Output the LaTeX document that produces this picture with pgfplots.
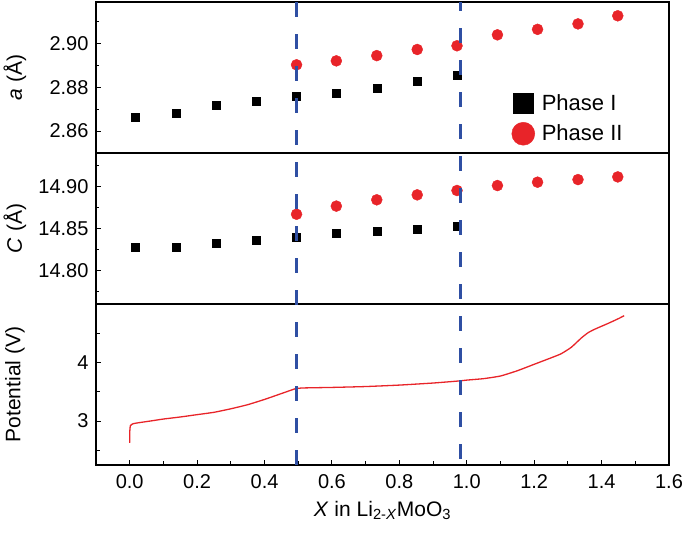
\documentclass[border=0pt]{standalone}
\usepackage{fontspec}
\setmainfont{Liberation Sans}
\usepackage{pgfplots}
\pgfplotsset{compat=1.18}
\definecolor{myred}{RGB}{232,36,41}
\definecolor{myblue}{RGB}{47,79,163}

\begin{document}
\begin{tikzpicture}[x=1pt,y=1pt]
\path[use as bounding box] (0,0) rectangle (685,538);
\pgfplotsset{
  every axis/.append style={
    scale only axis, width=573pt,
    xmin=-0.1, xmax=1.6,
    tick align=inside, xtick pos=bottom, ytick pos=left,
    axis line style={line width=1.4pt},
    major tick length=5pt, minor tick length=3.5pt,
    every tick/.style={black, line width=1pt},
    tick label style={font=\fontsize{20}{24}\selectfont},
    label style={font=\fontsize{21}{25}\selectfont},
    /pgf/number format/assume math mode=true,
    yticklabel style={xshift=-4pt},
    every axis y label/.style={at={(axis description cs:0,0.5)}, xshift=-81pt, rotate=90, anchor=center, font=\fontsize{21}{25}\selectfont},
  }
}
% Panel 1: a
\begin{axis}[at={(96pt,385pt)}, anchor=south west, height=151pt,
  ymin=2.85, ymax=2.919, ytick={2.86,2.88,2.90}, minor ytick={2.87,2.89,2.91},
  xtick=\empty,
  yticklabel style={/pgf/number format/fixed, /pgf/number format/fixed zerofill, /pgf/number format/precision=2},
  ylabel={\textit{a} (Å)},
  legend style={draw=none, fill=none, font=\fontsize{22}{26}\selectfont,
    at={(axis description cs:0.824,0.225)}, anchor=center, row sep=8pt, column sep=5pt},
  legend cell align=left]
\addplot[only marks, mark=square*, mark size=4pt, black,
  legend image post style={mark size=10pt}] coordinates {
(0.017,2.8665) (0.137,2.8680) (0.256,2.8717) (0.375,2.8736) (0.495,2.8760)
(0.613,2.8774) (0.733,2.8797) (0.853,2.8830) (0.971,2.8856)};
\addplot[only marks, mark=*, mark size=5.5pt, myred, mark options={draw=myred, fill=myred},
  legend image post style={mark size=11.5pt}] coordinates {
(0.495,2.8903) (0.613,2.8921) (0.733,2.8945) (0.853,2.8973) (0.971,2.8990)
(1.091,2.9040) (1.210,2.9065) (1.330,2.9090) (1.448,2.9127)};
\legend{Phase I, Phase II}
\end{axis}
% Panel 2: C
\begin{axis}[at={(96pt,234pt)}, anchor=south west, height=151pt,
  ymin=14.76, ymax=14.94, ytick={14.80,14.85,14.90}, minor ytick={14.775,14.825,14.875,14.925},
  xtick=\empty,
  yticklabel style={/pgf/number format/fixed, /pgf/number format/fixed zerofill, /pgf/number format/precision=2},
  ylabel={\textit{C} (Å)}]
\addplot[only marks, mark=square*, mark size=4pt, black] coordinates {
(0.017,14.8279) (0.137,14.8280) (0.256,14.8326) (0.375,14.8365) (0.495,14.8393)
(0.613,14.8445) (0.733,14.8473) (0.853,14.8496) (0.971,14.8532)};
\addplot[only marks, mark=*, mark size=5.5pt, myred, mark options={draw=myred, fill=myred}] coordinates {
(0.495,14.8670) (0.613,14.8767) (0.733,14.8842) (0.853,14.8901) (0.971,14.8953)
(1.091,14.9012) (1.210,14.9052) (1.330,14.9083) (1.448,14.9115)};
\end{axis}
% Panel 3: Potential
\begin{axis}[at={(96pt,73pt)}, anchor=south west, height=161pt,
  ymin=2.25, ymax=5.0, ytick={3,4}, minor ytick={2.5,3.5,4.5},
  xtick={0,0.2,...,1.6}, minor xtick={-0.1,0.1,0.3,0.5,0.7,0.9,1.1,1.3,1.5},
  xticklabel style={/pgf/number format/fixed, /pgf/number format/fixed zerofill, /pgf/number format/precision=1, yshift=-6pt},
  ylabel={Potential (V)},
  xlabel={\textit{X} in Li\textsubscript{2-\textit{X}}MoO\textsubscript{3}},
  xlabel style={yshift=-6pt},
  clip=false]
\addplot[myred, line width=1.3pt, smooth, tension=0.3] coordinates {
(0.0,2.63) (0.0,2.80) (0.002,2.92) (0.01,2.955) (0.03,2.975) (0.06,3.0) (0.1,3.035)
(0.15,3.07) (0.2,3.11) (0.25,3.15) (0.3,3.21) (0.35,3.28) (0.4,3.37) (0.45,3.47)
(0.49,3.55) (0.51,3.565) (0.55,3.57) (0.6,3.575) (0.7,3.59) (0.8,3.615) (0.9,3.65)
(0.976,3.685) (1.0,3.70) (1.05,3.725) (1.1,3.77) (1.15,3.86) (1.2,3.97) (1.25,4.08)
(1.28,4.15) (1.31,4.26) (1.34,4.42) (1.36,4.51) (1.38,4.57) (1.42,4.67) (1.45,4.75) (1.467,4.80)};
\addplot[myblue, line width=3pt, dash pattern=on 15pt off 17pt] coordinates {(0.494,10.158) (0.494,2.25)};
\addplot[myblue, line width=3pt, dash pattern=on 15pt off 17pt, dash phase=6pt] coordinates {(0.98,10.158) (0.98,2.25)};
\end{axis}
\end{tikzpicture}
\end{document}
